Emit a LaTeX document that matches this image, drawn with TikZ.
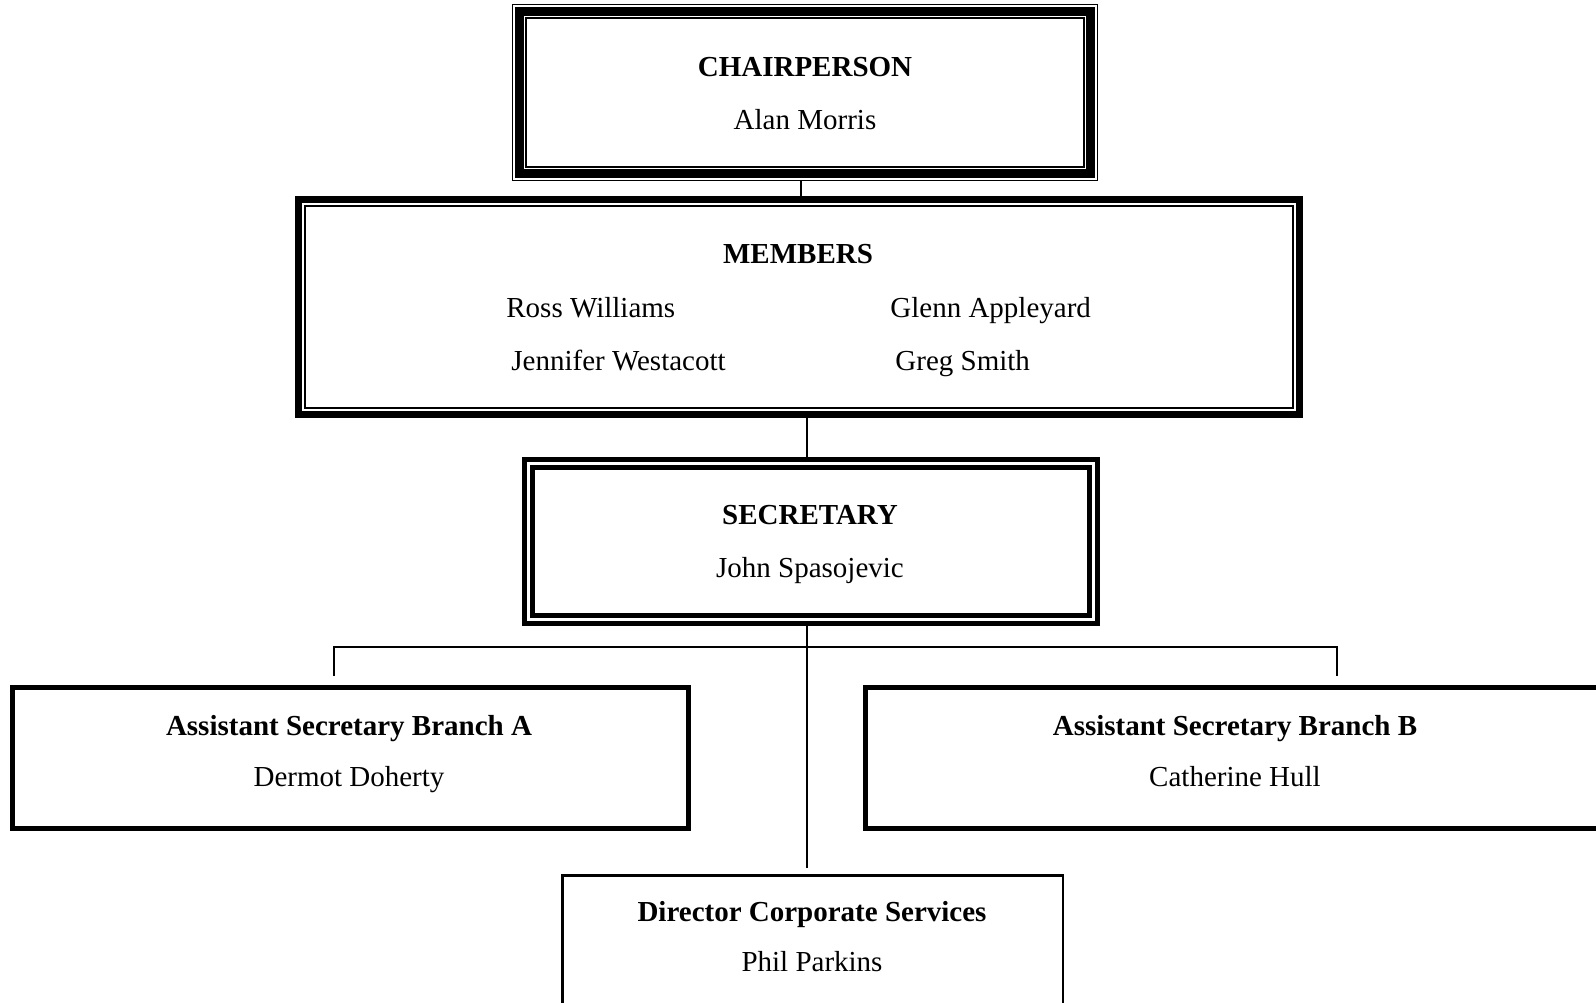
\documentclass[tikz,border=0pt]{standalone}
\usepackage{fontspec}
\setmainfont{Liberation Serif}
\begin{document}
\begin{tikzpicture}[x=0.5pt,y=-0.5pt,
  box/.style={rectangle,inner sep=0pt,outer sep=0pt},
  lbl/.style={anchor=base,inner sep=0pt,font=\fontsize{14.5}{17}\selectfont},
  ttl/.style={anchor=base,inner sep=0pt,font=\fontsize{14.5}{17}\selectfont\bfseries},
  conn/.style={line width=0.8pt}]
\useasboundingbox (0,0) rectangle (1596,1002);
\clip (0,0) rectangle (1596,1002);
\fill[white] (0,0) rectangle (1596,1002);

% boxes (frames drawn below)
\node[box,minimum width=293pt,minimum height=88.5pt] (chair) at (805,92.5) {};
\node[box,minimum width=504pt,minimum height=111pt] (members) at (799,307) {};
\node[box,minimum width=289pt,minimum height=84.5pt] (secretary) at (811,541.5) {};
\node[box,minimum width=340.5pt,minimum height=73pt] (boxA) at (350.5,758) {};
\node[box,minimum width=388.5pt,minimum height=73pt] (boxB) at (1251.5,758) {};
\node[box,minimum width=251.5pt,minimum height=78pt] (director) at (812.5,952) {};

% chair: thin-thick-thin
\draw[line width=0.65pt] ([shift={(0.65,0.65)}]chair.north west) rectangle ([shift={(-0.65,-0.65)}]chair.south east);
\draw[line width=4.5pt] ([shift={(7.5,7.5)}]chair.north west) rectangle ([shift={(-7.5,-7.5)}]chair.south east);
\draw[line width=1pt] ([shift={(14,14)}]chair.north west) rectangle ([shift={(-14,-14)}]chair.south east);

% members: thick-thin
\draw[line width=3.5pt] ([shift={(3.5,3.5)}]members.north west) rectangle ([shift={(-3.5,-3.5)}]members.south east);
\draw[line width=1pt] ([shift={(10,10)}]members.north west) rectangle ([shift={(-10,-10)}]members.south east);

% secretary: double thick
\draw[line width=2.5pt] ([shift={(2.5,2.5)}]secretary.north west) rectangle ([shift={(-2.5,-2.5)}]secretary.south east);
\draw[line width=2.5pt] ([shift={(10.5,10.5)}]secretary.north west) rectangle ([shift={(-10.5,-10.5)}]secretary.south east);

% branch boxes
\draw[line width=2.5pt] ([shift={(2.5,2.5)}]boxA.north west) rectangle ([shift={(-2.5,-2.5)}]boxA.south east);
\draw[line width=2.5pt] ([shift={(2.5,2.5)}]boxB.north west) rectangle ([shift={(-2.5,-2.5)}]boxB.south east);
\draw[line width=1.25pt] ([shift={(1.25,1.25)}]director.north west) rectangle ([shift={(-1.25,-1.25)}]director.south east);

% texts
\node[ttl] (chairT) at (805,76) {CHAIRPERSON};
\node[lbl] (chairN) at (805,129.5) {Alan Morris};
\node[ttl] (memT) at (798,263.5) {MEMBERS};
\node[lbl,anchor=base west] (m1) at (506,317.5) {Ross Williams};
\node[lbl,anchor=base west] (m2) at (890,317.5) {Glenn Appleyard};
\node[lbl,anchor=base west] (m3) at (511,370) {Jennifer Westacott};
\node[lbl,anchor=base west] (m4) at (895,370) {Greg Smith};
\node[ttl] (secT) at (810,524.5) {SECRETARY};
\node[lbl] (secN) at (810,577.5) {John Spasojevic};
\node[ttl] (aT) at (349,735) {Assistant Secretary Branch A};
\node[lbl] (aN) at (349,786) {Dermot Doherty};
\node[ttl] (bT) at (1235,735) {Assistant Secretary Branch B};
\node[lbl] (bN) at (1235,786) {Catherine Hull};
\node[ttl] (dT) at (812,921.5) {Director Corporate Services};
\node[lbl] (dN) at (812,971) {Phil Parkins};

% connectors
\coordinate (bar) at (807,647);
\coordinate (dropA) at (334,676);
\coordinate (dropB) at (1337,676);
\coordinate (vend) at (807,868);
\draw[conn] ([xshift=-2pt]chair.south) -- ([xshift=-2pt]chair.south |- members.north);
\draw[conn] ([xshift=-2pt]secretary.north) -- ([xshift=-2pt]secretary.north |- members.south);
\draw[conn] ([xshift=-2pt]secretary.south) -- (vend);
\draw[conn] (dropA) -- (dropA |- bar) -- (dropB |- bar) -- (dropB);
\end{tikzpicture}
\end{document}
